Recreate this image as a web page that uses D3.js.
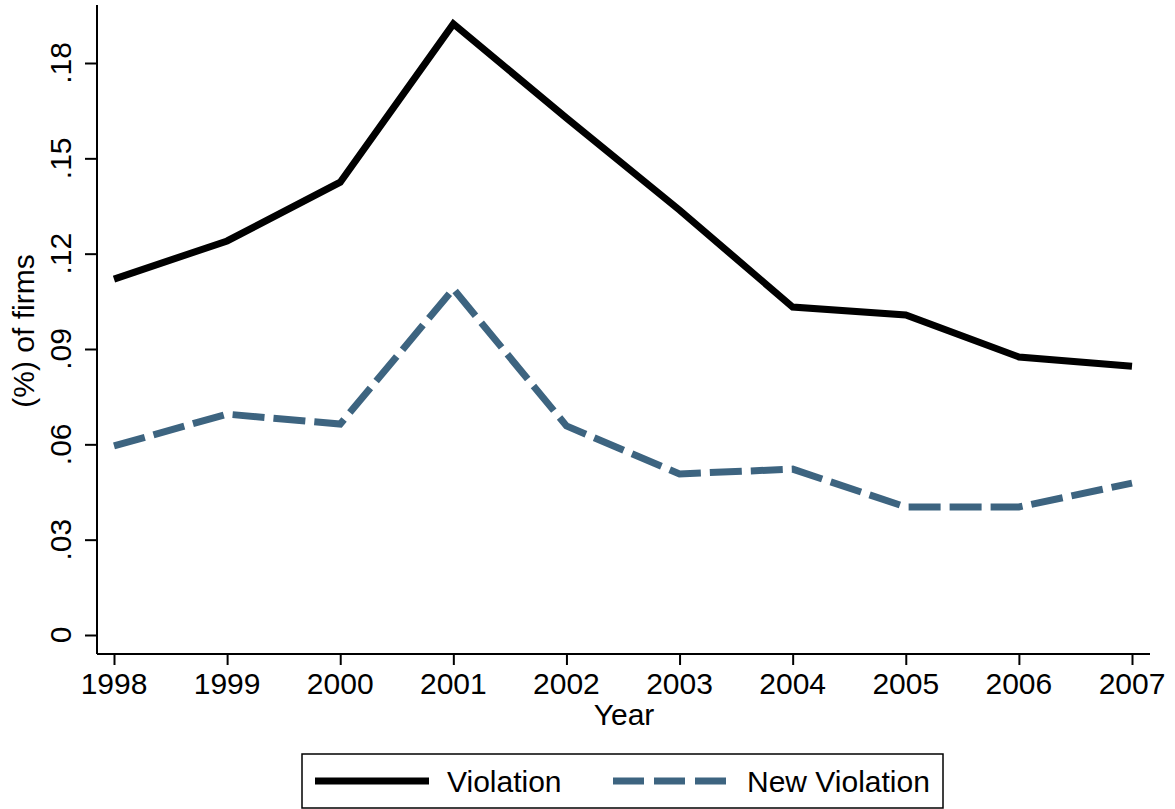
<!DOCTYPE html>
<html>
<head>
<meta charset="utf-8">
<script src="https://cdn.jsdelivr.net/npm/d3@7"></script>
<style>
  html, body { margin: 0; padding: 0; background: #fff; }
  svg { display: block; font-family: "Liberation Sans", Arial, sans-serif; }
</style>
</head>
<body>
<svg id="chart" width="1175" height="809"></svg>
<script>
// Share of firms with violations, by year
const years = [1998, 1999, 2000, 2001, 2002, 2003, 2004, 2005, 2006, 2007];
const violation = [0.112, 0.124, 0.1425, 0.1923, 0.1627, 0.1337, 0.1032, 0.1007, 0.0875, 0.0846];
const newViolation = [0.0595, 0.0695, 0.0664, 0.1089, 0.0658, 0.0507, 0.0522, 0.0403, 0.0403, 0.0478];
const yTicks = [0, 0.03, 0.06, 0.09, 0.12, 0.15, 0.18];
const seriesNames = ["Violation", "New Violation"];

const svg = d3.select("#chart");
const plot = { left: 97, right: 1150, top: 5, bottom: 654 };
const fontSize = 30;
const blue = "#3d6480";

const x = d3.scaleLinear().domain([1998, 2007]).range([114, 1132]);
const y = d3.scaleLinear().domain([0, 0.18]).range([635, 63]);

const fmt = v => v === 0 ? "0" : d3.format(".2f")(v).replace(/^0/, "");

// y axis
const yAxis = svg.append("g")
  .attr("transform", `translate(${plot.left},0)`)
  .call(d3.axisLeft(y).tickValues(yTicks).tickSize(12).tickPadding(0).tickFormat(""));
yAxis.select(".domain").attr("d", `M0,${plot.top}V${plot.bottom}`);
yAxis.selectAll("line, path").attr("stroke", "#000").attr("stroke-width", 2);

svg.append("g").selectAll("text")
  .data(yTicks)
  .join("text")
  .attr("transform", d => `translate(71,${y(d)}) rotate(-90)`)
  .attr("text-anchor", "middle")
  .attr("font-size", fontSize)
  .text(fmt);

// x axis
const xAxis = svg.append("g")
  .attr("transform", `translate(0,${plot.bottom})`)
  .call(d3.axisBottom(x).tickValues(years).tickSize(11).tickPadding(0).tickFormat(""));
xAxis.select(".domain").attr("d", `M${plot.left},0H${plot.right}`);
xAxis.selectAll("line, path").attr("stroke", "#000").attr("stroke-width", 2);

svg.append("g").selectAll("text")
  .data(years)
  .join("text")
  .attr("x", d => x(d))
  .attr("y", 694)
  .attr("text-anchor", "middle")
  .attr("font-size", fontSize)
  .text(d => d);

// axis titles
svg.append("text")
  .attr("x", 624)
  .attr("y", 725)
  .attr("text-anchor", "middle")
  .attr("font-size", fontSize)
  .text("Year");

svg.append("text")
  .attr("transform", `translate(34,331) rotate(-90)`)
  .attr("text-anchor", "middle")
  .attr("font-size", fontSize)
  .text("(%) of firms");

// series lines
const line = d3.line().x((d, i) => x(years[i])).y(d => y(d));

svg.append("path")
  .datum(violation)
  .attr("fill", "none")
  .attr("stroke", "#000")
  .attr("stroke-width", 7)
  .attr("stroke-linejoin", "miter")
  .attr("d", line);

svg.append("path")
  .datum(newViolation)
  .attr("fill", "none")
  .attr("stroke", blue)
  .attr("stroke-width", 7)
  .attr("stroke-dasharray", "32,9")
  .attr("d", line);

// legend
const legend = svg.append("g");
legend.append("rect")
  .attr("x", 302).attr("y", 754)
  .attr("width", 641).attr("height", 54)
  .attr("fill", "#fff").attr("stroke", "#000").attr("stroke-width", 1.5);

const legendItems = [
  { name: seriesNames[0], color: "#000", dash: null, x0: 315, tx: 447 },
  { name: seriesNames[1], color: blue, dash: "31,10", x0: 613, tx: 747 }
];
legendItems.forEach(it => {
  const l = legend.append("line")
    .attr("x1", it.x0).attr("x2", it.x0 + 114)
    .attr("y1", 781).attr("y2", 781)
    .attr("stroke", it.color).attr("stroke-width", 7);
  if (it.dash) l.attr("stroke-dasharray", it.dash);
  legend.append("text")
    .attr("x", it.tx).attr("y", 792)
    .attr("font-size", fontSize)
    .text(it.name);
});
</script>
</body>
</html>
